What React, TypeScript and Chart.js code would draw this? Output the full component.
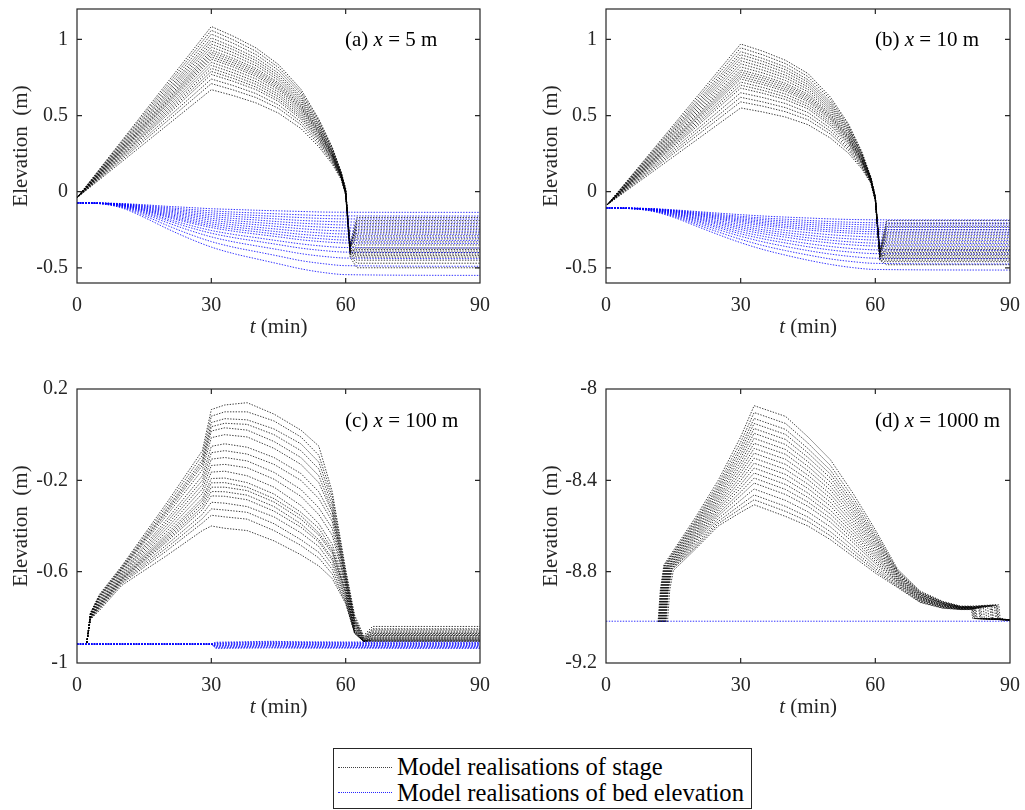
import React, { useEffect, useRef } from "react";
import { Chart, registerables } from "chart.js";

Chart.register(...registerables);

const FONT = '"Liberation Serif", "Times New Roman", Times, serif';
const AXIS_COLOR = "#262626";
const STAGE_COLOR = "rgba(0,0,0,0.85)";
const BED_COLOR = "rgba(0,0,255,0.9)";

// ---------- tick labels ----------
const X_TICKS = [0, 30, 60, 90];
const AB_Y_TICKS = [-0.5, 0, 0.5, 1];
const C_Y_TICKS = [-1, -0.6, -0.2, 0.2];
const D_Y_TICKS = [-9.2, -8.8, -8.4, -8];

// ---------- panel (a) x = 5 m ----------
const A_STAGE_T = [0, 30, 35, 40, 45, 50, 54, 57, 59, 60, 61, 62.5, 90];
const A_STAGE = [
  [-0.04, 1.085, 1.02, 0.944, 0.835, 0.673, 0.477, 0.293, 0.13, 0.02, -0.36, -0.31, -0.31],
  [-0.04, 1.06, 0.996, 0.922, 0.816, 0.657, 0.466, 0.286, 0.127, 0.02, -0.4, -0.42, -0.42],
  [-0.04, 1.035, 0.973, 0.9, 0.797, 0.642, 0.455, 0.279, 0.124, 0.01, -0.37, -0.19, -0.19],
  [-0.04, 1.01, 0.949, 0.879, 0.778, 0.626, 0.444, 0.273, 0.121, 0.01, -0.39, -0.37, -0.37],
  [-0.04, 0.99, 0.931, 0.861, 0.762, 0.614, 0.436, 0.267, 0.119, 0.01, -0.35, -0.25, -0.25],
  [-0.04, 0.97, 0.912, 0.844, 0.747, 0.601, 0.427, 0.262, 0.116, 0.0, -0.41, -0.45, -0.45],
  [-0.04, 0.95, 0.893, 0.827, 0.732, 0.589, 0.418, 0.257, 0.114, 0.0, -0.38, -0.33, -0.33],
  [-0.04, 0.93, 0.874, 0.809, 0.716, 0.577, 0.409, 0.251, 0.112, 0.0, -0.4, -0.4, -0.4],
  [-0.04, 0.915, 0.86, 0.796, 0.705, 0.567, 0.403, 0.247, 0.11, 0.0, -0.36, -0.21, -0.21],
  [-0.04, 0.9, 0.846, 0.783, 0.693, 0.558, 0.396, 0.243, 0.108, 0.0, -0.42, -0.47, -0.47],
  [-0.04, 0.885, 0.832, 0.77, 0.681, 0.549, 0.389, 0.239, 0.106, 0.0, -0.37, -0.29, -0.29],
  [-0.04, 0.87, 0.818, 0.757, 0.67, 0.539, 0.383, 0.235, 0.104, -0.01, -0.39, -0.38, -0.38],
  [-0.04, 0.85, 0.799, 0.74, 0.655, 0.527, 0.374, 0.23, 0.102, -0.01, -0.34, -0.17, -0.17],
  [-0.04, 0.83, 0.78, 0.722, 0.639, 0.515, 0.365, 0.224, 0.1, -0.01, -0.41, -0.43, -0.43],
  [-0.04, 0.81, 0.761, 0.705, 0.624, 0.502, 0.356, 0.219, 0.097, -0.01, -0.38, -0.35, -0.35],
  [-0.04, 0.79, 0.743, 0.687, 0.608, 0.49, 0.348, 0.213, 0.095, -0.01, -0.36, -0.23, -0.23],
  [-0.04, 0.77, 0.724, 0.67, 0.593, 0.477, 0.339, 0.208, 0.092, -0.02, -0.43, -0.5, -0.5],
  [-0.04, 0.74, 0.696, 0.644, 0.57, 0.459, 0.326, 0.2, 0.089, -0.02, -0.4, -0.41, -0.41],
  [-0.04, 0.71, 0.667, 0.618, 0.547, 0.44, 0.312, 0.192, 0.085, -0.02, -0.37, -0.27, -0.27],
  [-0.04, 0.67, 0.63, 0.583, 0.516, 0.415, 0.295, 0.181, 0.08, -0.02, -0.39, -0.39, -0.39],
];
const A_BED_T = [0, 5, 10, 15, 20, 25, 30, 35, 40, 45, 50, 55, 60, 90];
const A_BED = [
  [-0.074, -0.075, -0.078, -0.086, -0.096, -0.104, -0.112, -0.117, -0.122, -0.126, -0.13, -0.134, -0.135, -0.136],
  [-0.074, -0.075, -0.08, -0.091, -0.104, -0.116, -0.126, -0.134, -0.14, -0.146, -0.152, -0.157, -0.159, -0.16],
  [-0.074, -0.075, -0.081, -0.095, -0.111, -0.126, -0.139, -0.148, -0.156, -0.163, -0.17, -0.176, -0.179, -0.18],
  [-0.074, -0.075, -0.083, -0.099, -0.118, -0.136, -0.151, -0.162, -0.171, -0.18, -0.189, -0.195, -0.199, -0.2],
  [-0.074, -0.075, -0.084, -0.103, -0.125, -0.146, -0.163, -0.176, -0.186, -0.197, -0.207, -0.214, -0.219, -0.22],
  [-0.074, -0.076, -0.086, -0.107, -0.132, -0.155, -0.175, -0.19, -0.202, -0.213, -0.225, -0.233, -0.238, -0.24],
  [-0.074, -0.076, -0.087, -0.111, -0.139, -0.165, -0.187, -0.204, -0.217, -0.23, -0.243, -0.253, -0.258, -0.26],
  [-0.074, -0.076, -0.088, -0.115, -0.146, -0.175, -0.2, -0.218, -0.233, -0.247, -0.261, -0.272, -0.278, -0.28],
  [-0.074, -0.076, -0.09, -0.119, -0.153, -0.185, -0.212, -0.232, -0.248, -0.264, -0.28, -0.291, -0.298, -0.3],
  [-0.074, -0.076, -0.091, -0.123, -0.16, -0.195, -0.224, -0.246, -0.263, -0.281, -0.298, -0.31, -0.318, -0.32],
  [-0.074, -0.077, -0.093, -0.127, -0.167, -0.204, -0.236, -0.26, -0.279, -0.297, -0.316, -0.329, -0.337, -0.34],
  [-0.074, -0.077, -0.095, -0.133, -0.178, -0.219, -0.255, -0.281, -0.302, -0.323, -0.343, -0.358, -0.367, -0.37],
  [-0.074, -0.077, -0.097, -0.139, -0.188, -0.234, -0.273, -0.302, -0.325, -0.348, -0.371, -0.387, -0.397, -0.4],
  [-0.074, -0.078, -0.1, -0.147, -0.202, -0.253, -0.297, -0.33, -0.356, -0.381, -0.407, -0.425, -0.436, -0.44],
  [-0.074, -0.078, -0.103, -0.157, -0.22, -0.278, -0.328, -0.365, -0.394, -0.423, -0.453, -0.473, -0.486, -0.49],
  [-0.074, -0.079, -0.107, -0.169, -0.241, -0.307, -0.364, -0.407, -0.441, -0.474, -0.507, -0.531, -0.545, -0.55],
];

// ---------- panel (b) x = 10 m ----------
const B_STAGE_T = [0.3, 30, 35, 40, 45, 50, 54, 57, 59, 60, 61, 62.5, 90];
const B_STAGE = [
  [-0.085, 0.97, 0.922, 0.863, 0.776, 0.621, 0.446, 0.262, 0.097, -0.03, -0.4, -0.33, -0.33],
  [-0.085, 0.945, 0.898, 0.841, 0.756, 0.605, 0.435, 0.255, 0.095, -0.03, -0.43, -0.43, -0.43],
  [-0.085, 0.92, 0.874, 0.819, 0.736, 0.589, 0.423, 0.248, 0.092, -0.03, -0.39, -0.21, -0.21],
  [-0.085, 0.9, 0.855, 0.801, 0.72, 0.576, 0.414, 0.243, 0.09, -0.04, -0.42, -0.38, -0.38],
  [-0.085, 0.88, 0.836, 0.783, 0.704, 0.563, 0.405, 0.238, 0.088, -0.04, -0.4, -0.27, -0.27],
  [-0.085, 0.86, 0.817, 0.765, 0.688, 0.55, 0.396, 0.232, 0.086, -0.04, -0.44, -0.45, -0.45],
  [-0.085, 0.84, 0.798, 0.748, 0.672, 0.538, 0.386, 0.227, 0.084, -0.04, -0.41, -0.35, -0.35],
  [-0.085, 0.82, 0.779, 0.73, 0.656, 0.525, 0.377, 0.221, 0.082, -0.04, -0.43, -0.41, -0.41],
  [-0.085, 0.8, 0.76, 0.712, 0.64, 0.512, 0.368, 0.216, 0.08, -0.04, -0.39, -0.19, -0.19],
  [-0.085, 0.785, 0.746, 0.699, 0.628, 0.502, 0.361, 0.212, 0.079, -0.05, -0.45, -0.48, -0.48],
  [-0.085, 0.77, 0.732, 0.685, 0.616, 0.493, 0.354, 0.208, 0.077, -0.05, -0.41, -0.31, -0.31],
  [-0.085, 0.755, 0.717, 0.672, 0.604, 0.483, 0.347, 0.204, 0.076, -0.05, -0.42, -0.39, -0.39],
  [-0.085, 0.74, 0.703, 0.659, 0.592, 0.474, 0.34, 0.2, 0.074, -0.05, -0.4, -0.23, -0.23],
  [-0.085, 0.72, 0.684, 0.641, 0.576, 0.461, 0.331, 0.194, 0.072, -0.05, -0.44, -0.44, -0.44],
  [-0.085, 0.7, 0.665, 0.623, 0.56, 0.448, 0.322, 0.189, 0.07, -0.05, -0.42, -0.37, -0.37],
  [-0.085, 0.68, 0.646, 0.605, 0.544, 0.435, 0.313, 0.184, 0.068, -0.05, -0.4, -0.25, -0.25],
  [-0.085, 0.65, 0.618, 0.579, 0.52, 0.416, 0.299, 0.176, 0.065, -0.06, -0.45, -0.46, -0.46],
  [-0.085, 0.62, 0.589, 0.552, 0.496, 0.397, 0.285, 0.167, 0.062, -0.06, -0.43, -0.4, -0.4],
  [-0.085, 0.59, 0.561, 0.525, 0.472, 0.378, 0.271, 0.159, 0.059, -0.06, -0.41, -0.29, -0.29],
  [-0.085, 0.55, 0.523, 0.49, 0.44, 0.352, 0.253, 0.149, 0.055, -0.06, -0.42, -0.42, -0.42],
];
const B_BED_T = [0, 5, 10, 15, 20, 25, 30, 35, 40, 45, 50, 55, 60, 90];
const B_BED = [
  [-0.107, -0.108, -0.111, -0.119, -0.13, -0.141, -0.151, -0.16, -0.167, -0.173, -0.179, -0.183, -0.185, -0.186],
  [-0.107, -0.108, -0.112, -0.122, -0.135, -0.149, -0.162, -0.173, -0.181, -0.189, -0.196, -0.201, -0.204, -0.205],
  [-0.107, -0.108, -0.113, -0.124, -0.14, -0.156, -0.17, -0.183, -0.193, -0.202, -0.21, -0.215, -0.219, -0.22],
  [-0.107, -0.108, -0.113, -0.126, -0.144, -0.162, -0.179, -0.193, -0.204, -0.215, -0.223, -0.23, -0.234, -0.235],
  [-0.107, -0.108, -0.114, -0.128, -0.148, -0.168, -0.187, -0.203, -0.216, -0.227, -0.237, -0.244, -0.249, -0.25],
  [-0.107, -0.109, -0.115, -0.131, -0.153, -0.175, -0.195, -0.213, -0.227, -0.24, -0.251, -0.259, -0.263, -0.265],
  [-0.107, -0.109, -0.116, -0.133, -0.157, -0.181, -0.204, -0.223, -0.238, -0.252, -0.264, -0.273, -0.278, -0.28],
  [-0.107, -0.109, -0.117, -0.136, -0.163, -0.19, -0.215, -0.236, -0.254, -0.269, -0.283, -0.292, -0.298, -0.3],
  [-0.107, -0.109, -0.118, -0.139, -0.169, -0.199, -0.226, -0.25, -0.269, -0.286, -0.301, -0.311, -0.318, -0.32],
  [-0.107, -0.109, -0.119, -0.142, -0.175, -0.207, -0.237, -0.263, -0.284, -0.303, -0.319, -0.331, -0.338, -0.34],
  [-0.107, -0.11, -0.12, -0.145, -0.18, -0.216, -0.249, -0.277, -0.299, -0.32, -0.337, -0.35, -0.357, -0.36],
  [-0.107, -0.11, -0.121, -0.149, -0.188, -0.227, -0.263, -0.293, -0.318, -0.341, -0.36, -0.374, -0.382, -0.385],
  [-0.107, -0.11, -0.122, -0.152, -0.195, -0.237, -0.277, -0.31, -0.337, -0.362, -0.383, -0.398, -0.407, -0.41],
  [-0.107, -0.11, -0.124, -0.157, -0.204, -0.25, -0.293, -0.33, -0.36, -0.387, -0.41, -0.427, -0.437, -0.44],
  [-0.107, -0.111, -0.125, -0.162, -0.214, -0.265, -0.313, -0.354, -0.387, -0.416, -0.442, -0.46, -0.471, -0.475],
  [-0.107, -0.111, -0.127, -0.168, -0.225, -0.282, -0.335, -0.38, -0.417, -0.45, -0.478, -0.499, -0.511, -0.515],
];

// ---------- panel (c) x = 100 m ----------
const C_STAGE_T = [2.2, 3, 5, 10, 20, 28, 30, 33, 38, 44, 50, 54, 57, 60, 62, 64, 66, 90];
const C_STAGE = [
  [-0.91, -0.78, -0.7, -0.575, -0.3, -0.07, 0.11, 0.13, 0.14, 0.09, 0.02, -0.05, -0.25, -0.59, -0.79, -0.88, -0.84, -0.84],
  [-0.91, -0.782, -0.704, -0.58, -0.313, -0.09, 0.081, 0.1, 0.1, 0.06, -0.01, -0.09, -0.27, -0.6, -0.8, -0.885, -0.85, -0.85],
  [-0.91, -0.783, -0.708, -0.584, -0.326, -0.109, 0.053, 0.07, 0.065, 0.025, -0.04, -0.12, -0.29, -0.61, -0.81, -0.89, -0.855, -0.855],
  [-0.91, -0.784, -0.71, -0.588, -0.334, -0.122, 0.035, 0.05, 0.045, 0.0, -0.07, -0.15, -0.31, -0.62, -0.81, -0.89, -0.86, -0.86],
  [-0.91, -0.786, -0.713, -0.591, -0.343, -0.135, 0.016, 0.03, 0.02, -0.03, -0.1, -0.18, -0.33, -0.63, -0.82, -0.895, -0.865, -0.865],
  [-0.91, -0.787, -0.717, -0.595, -0.355, -0.154, -0.013, 0.0, -0.01, -0.06, -0.13, -0.21, -0.34, -0.63, -0.82, -0.895, -0.87, -0.87],
  [-0.91, -0.789, -0.722, -0.602, -0.372, -0.18, -0.051, -0.04, -0.055, -0.1, -0.17, -0.25, -0.36, -0.64, -0.83, -0.9, -0.87, -0.87],
  [-0.91, -0.791, -0.726, -0.606, -0.385, -0.2, -0.079, -0.07, -0.085, -0.13, -0.2, -0.28, -0.38, -0.65, -0.83, -0.9, -0.875, -0.875],
  [-0.91, -0.793, -0.73, -0.611, -0.398, -0.219, -0.107, -0.1, -0.115, -0.165, -0.24, -0.32, -0.41, -0.66, -0.84, -0.9, -0.88, -0.88],
  [-0.91, -0.794, -0.734, -0.616, -0.411, -0.238, -0.135, -0.13, -0.145, -0.195, -0.27, -0.35, -0.44, -0.66, -0.84, -0.905, -0.88, -0.88],
  [-0.91, -0.796, -0.738, -0.621, -0.424, -0.258, -0.164, -0.16, -0.18, -0.23, -0.31, -0.39, -0.48, -0.67, -0.85, -0.905, -0.885, -0.885],
  [-0.91, -0.798, -0.742, -0.625, -0.436, -0.278, -0.192, -0.19, -0.21, -0.26, -0.34, -0.41, -0.5, -0.68, -0.85, -0.905, -0.89, -0.89],
  [-0.91, -0.799, -0.744, -0.629, -0.445, -0.29, -0.211, -0.21, -0.23, -0.28, -0.355, -0.43, -0.51, -0.69, -0.855, -0.905, -0.89, -0.89],
  [-0.91, -0.8, -0.747, -0.632, -0.453, -0.303, -0.23, -0.23, -0.245, -0.295, -0.37, -0.44, -0.52, -0.69, -0.86, -0.905, -0.895, -0.895],
  [-0.91, -0.801, -0.749, -0.635, -0.462, -0.316, -0.249, -0.25, -0.265, -0.315, -0.39, -0.46, -0.54, -0.7, -0.86, -0.905, -0.895, -0.895],
  [-0.91, -0.802, -0.752, -0.638, -0.47, -0.329, -0.268, -0.27, -0.285, -0.335, -0.405, -0.47, -0.55, -0.71, -0.865, -0.905, -0.9, -0.9],
  [-0.91, -0.804, -0.756, -0.643, -0.483, -0.349, -0.296, -0.3, -0.315, -0.36, -0.43, -0.49, -0.57, -0.72, -0.865, -0.905, -0.9, -0.9],
  [-0.91, -0.806, -0.76, -0.647, -0.496, -0.368, -0.325, -0.33, -0.34, -0.39, -0.46, -0.515, -0.59, -0.73, -0.87, -0.905, -0.9, -0.9],
  [-0.91, -0.807, -0.763, -0.652, -0.509, -0.387, -0.353, -0.36, -0.37, -0.42, -0.485, -0.54, -0.61, -0.735, -0.87, -0.905, -0.905, -0.905],
  [-0.91, -0.81, -0.77, -0.66, -0.53, -0.42, -0.4, -0.41, -0.42, -0.465, -0.526, -0.575, -0.63, -0.74, -0.87, -0.905, -0.905, -0.905],
];
const C_BED_T = [0, 30, 31, 37, 43, 50, 60, 75, 90];
const C_BED = [
  [-0.917, -0.917, -0.909, -0.907, -0.905, -0.907, -0.908, -0.908, -0.909],
  [-0.917, -0.917, -0.912, -0.91, -0.908, -0.91, -0.911, -0.912, -0.912],
  [-0.917, -0.917, -0.915, -0.913, -0.911, -0.913, -0.914, -0.915, -0.915],
  [-0.917, -0.917, -0.918, -0.916, -0.914, -0.916, -0.917, -0.918, -0.918],
  [-0.917, -0.917, -0.921, -0.919, -0.917, -0.919, -0.92, -0.921, -0.921],
  [-0.917, -0.917, -0.924, -0.922, -0.92, -0.922, -0.923, -0.924, -0.924],
  [-0.917, -0.917, -0.927, -0.925, -0.923, -0.925, -0.926, -0.927, -0.927],
  [-0.917, -0.917, -0.93, -0.928, -0.927, -0.928, -0.929, -0.93, -0.93],
  [-0.917, -0.917, -0.933, -0.932, -0.931, -0.932, -0.932, -0.933, -0.933],
  [-0.917, -0.917, -0.936, -0.935, -0.934, -0.935, -0.935, -0.936, -0.936],
];

// ---------- panel (d) x = 1000 m ----------
const D_T_START = [11.6, 11.8, 11.7, 12.0, 11.9, 12.2, 12.1, 12.4, 12.3, 12.6, 12.5, 12.8, 12.7, 13.0, 12.9, 13.2, 13.1, 13.4, 13.3, 13.7];
const D_T_RISE = [12.1, 12.3, 12.2, 12.5, 12.4, 12.7, 12.6, 12.9, 12.8, 13.1, 13.0, 13.3, 13.2, 13.5, 13.4, 13.7, 13.6, 13.9, 13.8, 14.2];
const D_T_KNEE = [12.9, 13.1, 13.0, 13.3, 13.2, 13.5, 13.4, 13.7, 13.6, 13.9, 13.8, 14.1, 14.0, 14.3, 14.2, 14.5, 14.4, 14.7, 14.6, 15.0];
const D_V_START = -9.02;
const D_V_RISE = -8.88;
const D_V_KNEE = [-8.77, -8.772, -8.774, -8.775, -8.776, -8.778, -8.779, -8.78, -8.781, -8.782, -8.783, -8.784, -8.785, -8.786, -8.787, -8.788, -8.789, -8.79, -8.792, -8.795];
const D_STAGE_T = [20, 25, 30, 33, 40, 45, 50, 55, 60, 65, 70, 75, 79, 81.2];
const D_STAGE = [
  [-8.56, -8.4, -8.21, -8.073, -8.12, -8.21, -8.31, -8.456, -8.617, -8.79, -8.885, -8.93, -8.951, -8.951],
  [-8.57, -8.414, -8.233, -8.103, -8.151, -8.237, -8.335, -8.475, -8.63, -8.796, -8.889, -8.932, -8.952, -8.952],
  [-8.578, -8.426, -8.253, -8.129, -8.177, -8.261, -8.356, -8.492, -8.642, -8.8, -8.892, -8.934, -8.953, -8.953],
  [-8.585, -8.436, -8.269, -8.151, -8.199, -8.28, -8.373, -8.506, -8.651, -8.804, -8.894, -8.935, -8.954, -8.954],
  [-8.592, -8.446, -8.286, -8.173, -8.221, -8.3, -8.39, -8.52, -8.66, -8.808, -8.897, -8.937, -8.954, -8.954],
  [-8.599, -8.456, -8.302, -8.194, -8.243, -8.319, -8.408, -8.534, -8.67, -8.812, -8.899, -8.938, -8.955, -8.955],
  [-8.606, -8.466, -8.319, -8.216, -8.265, -8.339, -8.426, -8.547, -8.679, -8.816, -8.902, -8.94, -8.956, -8.956],
  [-8.613, -8.476, -8.335, -8.238, -8.286, -8.358, -8.443, -8.561, -8.689, -8.82, -8.904, -8.941, -8.957, -8.957],
  [-8.62, -8.486, -8.352, -8.26, -8.308, -8.378, -8.461, -8.575, -8.698, -8.824, -8.907, -8.943, -8.957, -8.957],
  [-8.627, -8.496, -8.368, -8.281, -8.33, -8.397, -8.478, -8.589, -8.708, -8.828, -8.909, -8.944, -8.958, -8.958],
  [-8.634, -8.506, -8.385, -8.303, -8.352, -8.417, -8.496, -8.603, -8.717, -8.832, -8.912, -8.946, -8.959, -8.959],
  [-8.641, -8.516, -8.401, -8.325, -8.374, -8.436, -8.513, -8.617, -8.727, -8.836, -8.914, -8.947, -8.96, -8.96],
  [-8.648, -8.526, -8.418, -8.346, -8.396, -8.456, -8.531, -8.631, -8.736, -8.84, -8.917, -8.949, -8.96, -8.96],
  [-8.655, -8.536, -8.434, -8.368, -8.418, -8.475, -8.548, -8.644, -8.746, -8.844, -8.919, -8.95, -8.961, -8.961],
  [-8.662, -8.546, -8.451, -8.39, -8.44, -8.495, -8.566, -8.658, -8.755, -8.848, -8.922, -8.952, -8.962, -8.962],
  [-8.669, -8.556, -8.467, -8.412, -8.462, -8.514, -8.583, -8.672, -8.764, -8.852, -8.924, -8.953, -8.963, -8.963],
  [-8.678, -8.568, -8.487, -8.438, -8.488, -8.538, -8.604, -8.689, -8.776, -8.857, -8.927, -8.955, -8.964, -8.964],
  [-8.686, -8.58, -8.507, -8.464, -8.514, -8.561, -8.625, -8.705, -8.787, -8.862, -8.93, -8.957, -8.965, -8.965],
  [-8.693, -8.59, -8.524, -8.485, -8.536, -8.58, -8.643, -8.719, -8.797, -8.866, -8.933, -8.959, -8.965, -8.965],
  [-8.7, -8.6, -8.54, -8.507, -8.558, -8.6, -8.66, -8.733, -8.806, -8.87, -8.935, -8.96, -8.966, -8.966],
];
const D_T_HOLD = [86.8, 82.0, 87.2, 81.6, 85.5, 83.0, 87.5, 82.4, 84.0, 86.0, 81.8, 85.0, 83.5, 87.0, 82.2, 84.5, 86.5, 81.4, 83.2, 85.8];
const D_V_HOLD = [-8.945, -8.96, -8.95, -8.965, -8.948, -8.955, -8.945, -8.962, -8.95, -8.947, -8.965, -8.952, -8.958, -8.946, -8.963, -8.95, -8.948, -8.966, -8.956, -8.949];
const D_T_DROP = [87.1, 82.3, 87.5, 81.9, 85.8, 83.3, 87.8, 82.7, 84.3, 86.3, 82.1, 85.3, 83.8, 87.3, 82.5, 84.8, 86.8, 81.7, 83.5, 86.1];
const D_V_DROP = -9.005;
const D_T_END = 90;
const D_V_END = -9.012;
const D_BED_T = [0, 90];
const D_BED = [[-9.017, -9.017]];

// ---------- helpers ----------
type Pt = { x: number; y: number };

function lineDataset(data: Pt[], color: string, smooth: boolean) {
  return {
    data,
    showLine: true,
    borderColor: color,
    borderWidth: 0.9,
    borderDash: [1.4, 1.4],
    pointRadius: 0,
    fill: false,
    tension: 0,
    cubicInterpolationMode: smooth ? "monotone" : "default",
  };
}

function rowsToDatasets(times: number[], rows: number[][], color: string, smooth: boolean) {
  return rows.map((r) => lineDataset(r.map((y, i) => ({ x: times[i], y })), color, smooth));
}

function dStageDatasets() {
  return D_STAGE.map((row, i) => {
    const pts: Pt[] = [
      { x: D_T_START[i], y: D_V_START },
      { x: D_T_RISE[i], y: D_V_RISE },
      { x: D_T_KNEE[i], y: D_V_KNEE[i] },
      ...row.map((y, j) => ({ x: D_STAGE_T[j], y })),
      { x: D_T_HOLD[i], y: D_V_HOLD[i] },
      { x: D_T_DROP[i], y: D_V_DROP },
      { x: D_T_END, y: D_V_END },
    ];
    return lineDataset(pts, STAGE_COLOR, false);
  });
}

const boxPlugin = {
  id: "matlabBox",
  afterDraw(chart: any) {
    const { ctx, chartArea: a, scales } = chart;
    const xs = scales.x;
    const ys = scales.y;
    const len = 5;
    ctx.save();
    ctx.strokeStyle = AXIS_COLOR;
    ctx.lineWidth = 1.2;
    ctx.strokeRect(a.left, a.top, a.right - a.left, a.bottom - a.top);
    ctx.beginPath();
    xs.ticks.forEach((t: any) => {
      const px = xs.getPixelForValue(t.value);
      if (px <= a.left + 1 || px >= a.right - 1) return;
      ctx.moveTo(px, a.bottom);
      ctx.lineTo(px, a.bottom - len);
      ctx.moveTo(px, a.top);
      ctx.lineTo(px, a.top + len);
    });
    ys.ticks.forEach((t: any) => {
      const py = ys.getPixelForValue(t.value);
      if (py <= a.top + 1 || py >= a.bottom - 1) return;
      ctx.moveTo(a.left, py);
      ctx.lineTo(a.left + len, py);
      ctx.moveTo(a.right, py);
      ctx.lineTo(a.right - len, py);
    });
    ctx.stroke();
    ctx.restore();
  },
};

type PanelProps = {
  left: number;
  top: number;
  width: number;
  height: number;
  padTop: number;
  padRight: number;
  yAxisW: number;
  xAxisH: number;
  yMin: number;
  yMax: number;
  yTicks: number[];
  datasets: any[];
};

function Panel(p: PanelProps) {
  const ref = useRef<HTMLCanvasElement | null>(null);
  useEffect(() => {
    if (!ref.current) return;
    const tickFont = { family: FONT, size: 20 };
    const chart = new Chart(ref.current, {
      type: "scatter",
      data: { datasets: p.datasets },
      options: {
        animation: false,
        responsive: false,
        events: [],
        layout: { padding: { top: p.padTop, right: p.padRight, left: 0, bottom: 0 } },
        plugins: { legend: { display: false }, tooltip: { enabled: false } },
        scales: {
          x: {
            type: "linear",
            min: 0,
            max: 90,
            grid: { display: false, drawTicks: false },
            border: { display: false },
            afterBuildTicks: (s: any) => {
              s.ticks = X_TICKS.map((v) => ({ value: v }));
            },
            afterFit: (s: any) => {
              s.height = p.xAxisH;
              s.paddingLeft = 0;
              s.paddingRight = 0;
            },
            ticks: {
              font: tickFont,
              color: AXIS_COLOR,
              padding: 11,
              maxRotation: 0,
              autoSkip: false,
              callback: (v: any) => String(v),
            },
          },
          y: {
            type: "linear",
            min: p.yMin,
            max: p.yMax,
            grid: { display: false, drawTicks: false },
            border: { display: false },
            afterBuildTicks: (s: any) => {
              s.ticks = p.yTicks.map((v) => ({ value: v }));
            },
            afterFit: (s: any) => {
              s.width = p.yAxisW;
              s.paddingTop = 0;
              s.paddingBottom = 0;
            },
            ticks: {
              font: tickFont,
              color: AXIS_COLOR,
              padding: 9,
              autoSkip: false,
              callback: (v: any) => String(v),
            },
          },
        },
      } as any,
      plugins: [boxPlugin],
    });
    return () => chart.destroy();
  }, []);
  return (
    <canvas
      ref={ref}
      width={p.width}
      height={p.height}
      style={{ position: "absolute", left: p.left, top: p.top, width: p.width, height: p.height }}
    />
  );
}

const textBase: React.CSSProperties = {
  position: "absolute",
  fontFamily: FONT,
  color: "#000",
  whiteSpace: "pre",
  margin: 0,
};

function YTitle({ cx, cy }: { cx: number; cy: number }) {
  return (
    <div
      style={{
        ...textBase,
        left: cx,
        top: cy,
        fontSize: 21,
        lineHeight: "21px",
        color: AXIS_COLOR,
        transform: "translate(-50%, -50%) rotate(-90deg)",
      }}
    >
      {"Elevation  (m)"}
    </div>
  );
}

function XTitle({ cx, top }: { cx: number; top: number }) {
  return (
    <div
      style={{
        ...textBase,
        left: cx,
        top,
        fontSize: 21,
        lineHeight: "21px",
        color: AXIS_COLOR,
        transform: "translateX(-50%)",
      }}
    >
      <i>t</i>
      {" (min)"}
    </div>
  );
}

function Note({ left, top, label, loc }: { left: number; top: number; label: string; loc: string }) {
  return (
    <div style={{ ...textBase, left, top, fontSize: 21, lineHeight: "21px" }}>
      {label + " "}
      <i>x</i>
      {" = " + loc}
    </div>
  );
}

export default function App() {
  const dsA = [
    ...rowsToDatasets(A_BED_T, A_BED, BED_COLOR, true),
    ...rowsToDatasets(A_STAGE_T, A_STAGE, STAGE_COLOR, false),
  ];
  const dsB = [
    ...rowsToDatasets(B_BED_T, B_BED, BED_COLOR, true),
    ...rowsToDatasets(B_STAGE_T, B_STAGE, STAGE_COLOR, false),
  ];
  const dsC = [
    ...rowsToDatasets(C_BED_T, C_BED, BED_COLOR, false),
    ...rowsToDatasets(C_STAGE_T, C_STAGE, STAGE_COLOR, false),
  ];
  const dsD = [...rowsToDatasets(D_BED_T, D_BED, BED_COLOR, false), ...dStageDatasets()];

  return (
    <div
      style={{
        position: "fixed",
        left: 0,
        top: 0,
        width: 1025,
        height: 810,
        background: "#fff",
        overflow: "hidden",
      }}
    >
      <Panel left={0} top={0} width={500} height={345} padTop={9} padRight={20} yAxisW={77} xAxisH={62}
        yMin={-0.6} yMax={1.2} yTicks={AB_Y_TICKS} datasets={dsA} />
      <Panel left={512} top={0} width={513} height={345} padTop={9} padRight={15} yAxisW={94} xAxisH={62}
        yMin={-0.6} yMax={1.2} yTicks={AB_Y_TICKS} datasets={dsB} />
      <Panel left={0} top={370} width={500} height={345} padTop={19} padRight={20} yAxisW={77} xAxisH={52}
        yMin={-1} yMax={0.2} yTicks={C_Y_TICKS} datasets={dsC} />
      <Panel left={512} top={370} width={513} height={345} padTop={19} padRight={15} yAxisW={94} xAxisH={52}
        yMin={-9.2} yMax={-8} yTicks={D_Y_TICKS} datasets={dsD} />

      <YTitle cx={19.5} cy={146} />
      <YTitle cx={550} cy={146} />
      <YTitle cx={19.5} cy={526} />
      <YTitle cx={550} cy={526} />

      <XTitle cx={278.5} top={316} />
      <XTitle cx={808} top={316} />
      <XTitle cx={278.5} top={696} />
      <XTitle cx={808} top={696} />

      <Note left={345} top={29} label="(a)" loc="5 m" />
      <Note left={875} top={29} label="(b)" loc="10 m" />
      <Note left={345} top={410} label="(c)" loc="100 m" />
      <Note left={875} top={410} label="(d)" loc="1000 m" />

      <div
        style={{
          position: "absolute",
          left: 333,
          top: 748,
          width: 419,
          height: 61,
          boxSizing: "border-box",
          border: "1px solid " + AXIS_COLOR,
          background: "#fff",
        }}
      />
      <div style={{ position: "absolute", left: 338, top: 767, width: 54, height: 0, borderTop: "1px dotted rgba(0,0,0,0.75)" }} />
      <div style={{ position: "absolute", left: 338, top: 792, width: 54, height: 0, borderTop: "1px dotted rgba(0,0,255,0.85)" }} />
      <div style={{ ...textBase, left: 397, top: 754.5, fontSize: 24.6, lineHeight: "24.6px" }}>
        Model realisations of stage
      </div>
      <div style={{ ...textBase, left: 397, top: 781, fontSize: 24.6, lineHeight: "24.6px" }}>
        Model realisations of bed elevation
      </div>
    </div>
  );
}
